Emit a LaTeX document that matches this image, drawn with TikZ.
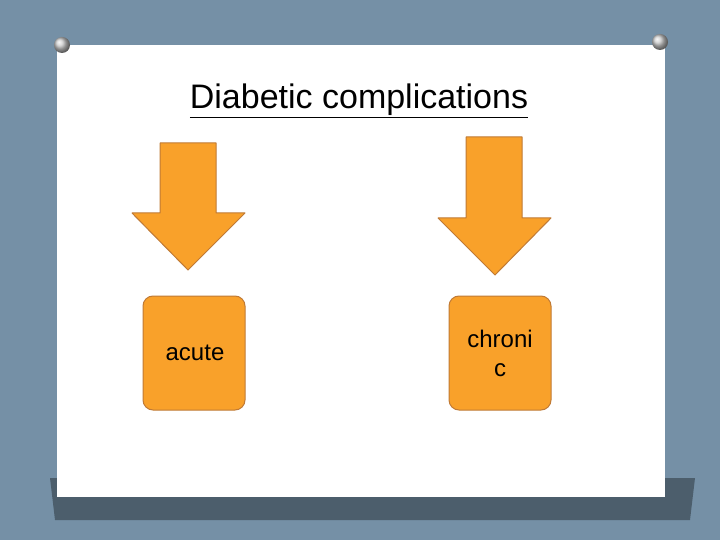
\documentclass[tikz,border=0pt]{standalone}
\usepackage{fontspec}
\setmainfont{Liberation Sans}
\definecolor{bg}{HTML}{7590A6}
\definecolor{orng}{HTML}{F9A12A}
\definecolor{edge}{HTML}{C07A35}
\begin{document}
\begin{tikzpicture}[x=1pt,y=-1pt,
  arr/.style={fill=orng,draw=edge,line width=1pt,line join=round},
  bx/.style={fill=orng,draw=edge,line width=1pt,rounded corners=10pt},
  lbl/.style={font=\fontsize{24}{29}\selectfont,align=center}]
\useasboundingbox (0,0) rectangle (720,540);
\fill[bg] (0,0) rectangle (720,540);
\fill[black!35!bg] (50,478) -- (695,478) -- (690,520) -- (55,520) -- cycle;
\fill[white] (57,45) rectangle (665,497);
\shade[ball color=gray!40] (62,45) circle (8);
\shade[ball color=gray!40] (660,42) circle (8);
\node[font=\fontsize{34}{38}\selectfont] (title) at (359,101) {\underline{Diabetic complications}};
\draw[arr] (160,143) -- (216,143) -- (216,213) -- (245,213) -- (188,270) -- (132,213) -- (160,213) -- cycle;
\draw[arr] (466,137) -- (522,137) -- (522,218) -- (551,218) -- (495,275) -- (438,218) -- (466,218) -- cycle;
\draw[bx] (143,296) rectangle (245,410);
\draw[bx] (449,296) rectangle (551,410);
\node[lbl] (acute) at (195,353) {acute};
\node[lbl] (chronic) at (500,353) {chroni\\c};
\end{tikzpicture}
\end{document}
